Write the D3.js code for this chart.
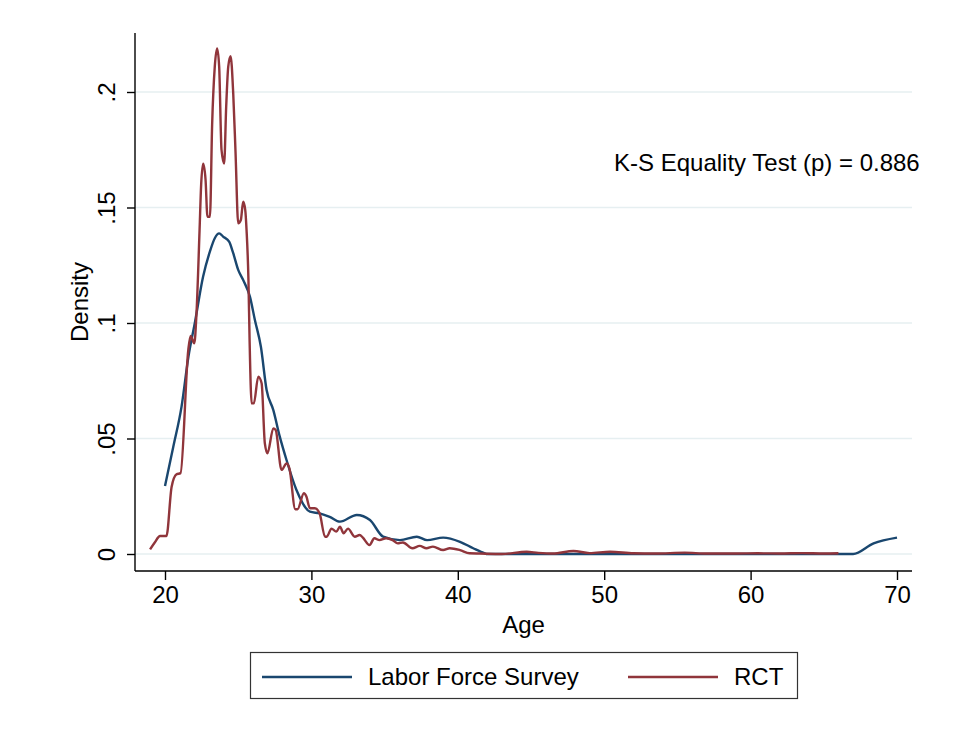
<!DOCTYPE html>
<html>
<head>
<meta charset="utf-8">
<script src="https://cdn.jsdelivr.net/npm/d3@7"></script>
<style>
  body { margin: 0; background: #fff; }
  svg { display: block; font-family: "Liberation Sans", Arial, Helvetica, sans-serif; }
</style>
</head>
<body>
<div id="chart"></div>
<script>
// Age values (x) and kernel density (y)
var lfsAge = [20, 20.57, 21.13, 21.6, 22.05, 22.6, 23.07, 23.4, 23.7, 23.97, 24.38, 24.66, 25.0, 25.34, 25.8,
  26.14, 26.55, 26.94, 27.4, 27.84, 28.3, 28.98, 29.9, 30.56, 31.25, 31.95, 33.1, 34.0, 34.9, 36.05,
  37.2, 37.9, 39.0, 40.15, 41.05, 41.85, 42, 67, 68.4, 70];
var lfsDensity = [0.0294, 0.0465, 0.0638, 0.0854, 0.1005, 0.120, 0.131, 0.1367, 0.1388, 0.1374, 0.1352, 0.1302, 0.123, 0.1186, 0.1114,
  0.1013, 0.0897, 0.071, 0.0623, 0.0508, 0.0407, 0.0277, 0.0183, 0.0176, 0.0161, 0.014, 0.0169, 0.0147, 0.0075, 0.006,
  0.0075, 0.006, 0.0071, 0.0053, 0.0025, 0.0003, 0, 0, 0.0046, 0.0071];

var rctAge = [18.98, 19.3, 19.66, 20.1, 20.45, 20.79, 21.06, 21.59, 21.75, 22.0, 22.15, 22.36, 22.47, 22.61, 22.77,
  22.9, 23.07, 23.22, 23.4, 23.56, 23.7, 23.86, 24.04, 24.18, 24.32, 24.48, 24.66, 24.82, 25.0, 25.18,
  25.34, 25.48, 25.57, 25.7, 25.78, 25.92, 26.07, 26.37, 26.6, 26.82, 27.0, 27.4, 27.56, 27.96, 28.3,
  28.5, 28.9, 29.05, 29.49, 29.65, 29.9, 30.24, 30.56, 30.93, 31.05, 31.37, 31.7, 31.95, 32.2, 32.5,
  32.96, 33.3, 33.5, 33.97, 34.3, 34.65, 35.1, 35.55, 35.9, 36.25, 36.9, 37.4, 37.86, 38.3, 39.0,
  39.45, 40.15, 40.8, 41.5, 43, 44.7, 45.5, 46.5, 47.9, 49, 50.4, 52, 53.5, 55.5, 57,
  59, 60.5, 62, 63.5, 65, 66];
var rctDensity = [0.002, 0.005, 0.0078, 0.0078, 0.029, 0.0345, 0.035, 0.0883, 0.0944, 0.0912, 0.104, 0.140, 0.160, 0.169, 0.162,
  0.146, 0.146, 0.186, 0.211, 0.2189, 0.211, 0.175, 0.169, 0.1937, 0.211, 0.2155, 0.1994, 0.1735, 0.1432, 0.1446,
  0.1525, 0.149, 0.1403, 0.1186, 0.092, 0.0652, 0.0652, 0.0768, 0.0739, 0.0479, 0.0436, 0.0544, 0.0537, 0.0364, 0.0392,
  0.037, 0.0194, 0.0194, 0.0263, 0.025, 0.0198, 0.0198, 0.0176, 0.0075, 0.0075, 0.011, 0.0097, 0.0118, 0.009, 0.011,
  0.0075, 0.0082, 0.0072, 0.0039, 0.0068, 0.006, 0.0068, 0.006, 0.0046, 0.005, 0.0025, 0.0035, 0.0025, 0.0032, 0.0017,
  0.0025, 0.0017, 0.0003, 0.0002, 0.0, 0.001, 0.0005, 0.0002, 0.0013, 0.0004, 0.001, 0.0003, 0.0002, 0.0006, 0.0002,
  0.0002, 0.0003, 0.0002, 0.0004, 0.0002, 0.0003];

var xTicks = [20, 30, 40, 50, 60, 70];
var yTicks = [0, 0.05, 0.1, 0.15, 0.2];
var yTickLabels = ["0", ".05", ".1", ".15", ".2"];
var seriesNames = ["Labor Force Survey", "RCT"];
var seriesColors = ["#1a476f", "#90353b"];
var note = "K-S Equality Test (p) = 0.886";

var W = 971, H = 733;
var plot = {left: 135, right: 912, top: 33, bottom: 571};
var fontSize = 24;

var svg = d3.select("#chart").append("svg")
    .attr("width", W)
    .attr("height", H);

var x = d3.scaleLinear().domain([20, 70]).range([165, 897]);
var y = d3.scaleLinear().domain([0, 0.2]).range([554, 92]);

// grid lines
svg.append("g")
  .selectAll("line")
  .data(yTicks)
  .enter().append("line")
    .attr("x1", plot.left).attr("x2", plot.right)
    .attr("y1", d => y(d)).attr("y2", d => y(d))
    .attr("stroke", "#e6eff1")
    .attr("stroke-width", 1.6);

// density lines
var line = d3.line()
    .x(d => x(d[0]))
    .y(d => y(d[1]))
    .curve(d3.curveMonotoneX);

var lfs = lfsAge.map((a, i) => [a, lfsDensity[i]]);
var rct = rctAge.map((a, i) => [a, rctDensity[i]]);

svg.append("path")
    .datum(lfs)
    .attr("d", line)
    .attr("fill", "none")
    .attr("stroke", seriesColors[0])
    .attr("stroke-width", 2.4)
    .attr("stroke-linejoin", "round");

svg.append("path")
    .datum(rct)
    .attr("d", line)
    .attr("fill", "none")
    .attr("stroke", seriesColors[1])
    .attr("stroke-width", 2.4)
    .attr("stroke-linejoin", "round");

// axes
var xAxis = svg.append("g")
    .attr("transform", "translate(0," + plot.bottom + ")")
    .call(d3.axisBottom(x).tickValues(xTicks).tickSize(9).tickPadding(6).tickFormat(d3.format("d")));
xAxis.select(".domain").remove();
xAxis.selectAll(".tick line").attr("stroke", "#000").attr("stroke-width", 1.4);
xAxis.selectAll("text")
    .attr("font-size", fontSize)
    .attr("font-family", "Liberation Sans, Arial, sans-serif")
    .attr("fill", "#000");

var yAxis = svg.append("g")
    .attr("transform", "translate(" + plot.left + ",0)")
    .call(d3.axisLeft(y).tickValues(yTicks).tickSize(8).tickFormat((d, i) => yTickLabels[i]));
yAxis.select(".domain").remove();
yAxis.selectAll(".tick line").attr("stroke", "#000").attr("stroke-width", 1.4);
yAxis.selectAll("text")
    .attr("x", 0)
    .attr("dy", 0)
    .attr("text-anchor", "middle")
    .attr("transform", "translate(-20,0) rotate(-90)")
    .attr("font-size", fontSize)
    .attr("font-family", "Liberation Sans, Arial, sans-serif")
    .attr("fill", "#000");

// axis lines
svg.append("line")
    .attr("x1", plot.left).attr("x2", plot.right)
    .attr("y1", plot.bottom).attr("y2", plot.bottom)
    .attr("stroke", "#000").attr("stroke-width", 1.4);
svg.append("line")
    .attr("x1", plot.left).attr("x2", plot.left)
    .attr("y1", plot.top).attr("y2", plot.bottom)
    .attr("stroke", "#000").attr("stroke-width", 1.4);

// axis titles
svg.append("text")
    .attr("x", (plot.left + plot.right) / 2)
    .attr("y", 633)
    .attr("text-anchor", "middle")
    .attr("font-size", fontSize)
    .text("Age");

svg.append("text")
    .attr("transform", "translate(88," + ((plot.top + plot.bottom) / 2) + ") rotate(-90)")
    .attr("text-anchor", "middle")
    .attr("font-size", fontSize)
    .text("Density");

// K-S note
svg.append("text")
    .attr("x", 614)
    .attr("y", 171)
    .attr("font-size", fontSize)
    .text(note);

// legend
var legend = svg.append("g");
legend.append("rect")
    .attr("x", 250.5).attr("y", 652.5)
    .attr("width", 547).attr("height", 46)
    .attr("fill", "#fff")
    .attr("stroke", "#333")
    .attr("stroke-width", 1.2);

var legendX = [262, 628];
seriesNames.forEach(function(name, i) {
    legend.append("line")
        .attr("x1", legendX[i]).attr("x2", legendX[i] + 90)
        .attr("y1", 677).attr("y2", 677)
        .attr("stroke", seriesColors[i])
        .attr("stroke-width", 2.4);
    legend.append("text")
        .attr("x", legendX[i] + 106)
        .attr("y", 685)
        .attr("font-size", fontSize)
        .text(name);
});
</script>
</body>
</html>
